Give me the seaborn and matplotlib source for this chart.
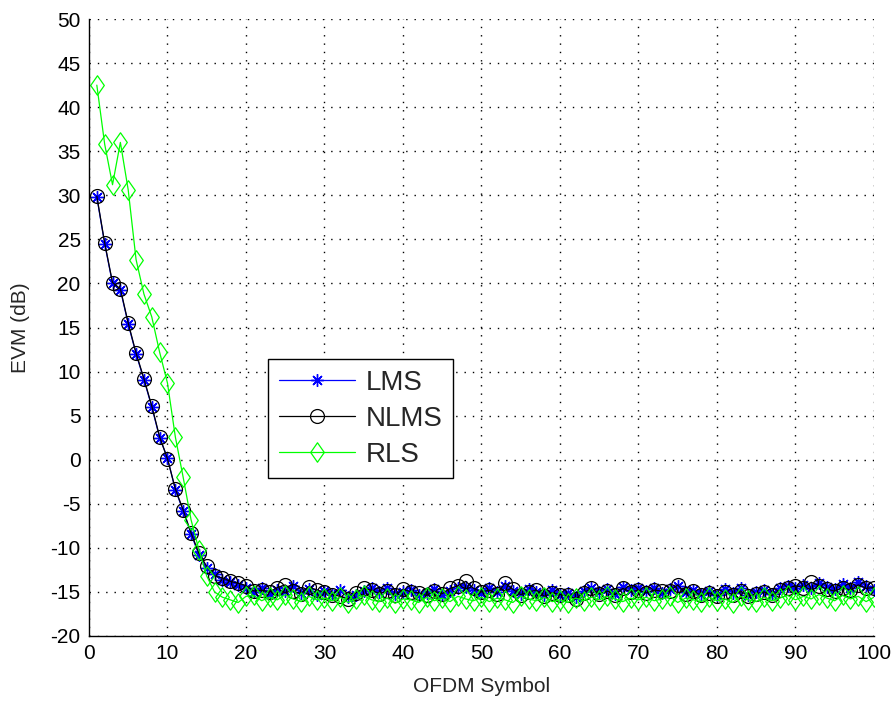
import numpy as np
import pandas as pd
import matplotlib
matplotlib.use("Agg")
import matplotlib.pyplot as plt
from matplotlib.path import Path
import seaborn as sns

symbols = list(range(1, 101))

lms = [29.8, 24.5, 20.0, 19.3, 15.4, 12.0, 9.1, 6.0, 2.5, 0.2,
       -3.4, -5.8, -8.4, -10.8, -12.3, -13.0, -13.6, -13.9, -14.2, -14.6,
       -15.0, -14.6, -15.2, -14.8, -14.9, -14.3, -15.1, -14.7, -15.3, -14.9,
       -15.2, -14.8, -15.6, -15.4, -14.9, -14.5, -15.0, -14.6, -15.2, -15.0,
       -14.8, -15.3, -15.1, -14.7, -15.4, -14.9, -14.5, -14.4, -14.8, -15.1,
       -14.6, -15.0, -14.3, -14.9, -15.2, -14.7, -15.0, -15.3, -14.8, -15.4,
       -15.1, -15.6, -14.9, -14.5, -15.0, -14.7, -15.2, -14.4, -14.8, -14.6,
       -14.9, -14.5, -15.1, -14.7, -14.3, -15.0, -14.8, -15.2, -14.9, -15.3,
       -14.7, -15.1, -14.6, -15.3, -15.0, -14.8, -15.2, -14.6, -14.3, -14.5,
       -14.2, -14.6, -14.0, -14.4, -14.7, -14.1, -14.5, -13.9, -14.3, -14.8]

nlms = [29.9, 24.6, 20.1, 19.4, 15.5, 12.1, 9.2, 6.1, 2.6, 0.1,
        -3.3, -5.7, -8.3, -10.6, -12.1, -13.2, -13.4, -13.8, -14.0, -14.3,
        -14.9, -14.8, -15.0, -14.5, -14.2, -14.9, -15.2, -14.4, -14.8, -15.0,
        -15.3, -15.5, -15.8, -15.1, -14.6, -14.8, -15.2, -14.9, -15.4, -14.7,
        -15.0, -15.1, -15.4, -14.9, -15.2, -14.6, -14.3, -13.8, -14.6, -15.0,
        -14.8, -15.2, -14.0, -14.7, -15.3, -15.0, -14.8, -15.5, -15.1, -15.3,
        -15.4, -15.8, -15.1, -14.6, -15.2, -14.9, -15.3, -14.6, -15.0, -14.8,
        -15.1, -14.8, -14.9, -14.9, -14.2, -15.2, -14.9, -15.4, -15.1, -15.5,
        -15.0, -15.3, -14.9, -15.5, -15.2, -15.0, -15.4, -14.8, -14.6, -14.3,
        -14.5, -13.9, -14.3, -14.7, -14.9, -14.5, -14.8, -14.2, -14.6, -14.5]

rls = [42.5, 35.8, 31.2, 36.0, 30.6, 22.7, 18.8, 16.2, 12.2, 8.7,
       2.6, -2.0, -6.8, -10.2, -13.2, -15.0, -15.6, -15.9, -16.2, -15.5,
       -15.4, -16.0, -15.6, -15.9, -15.3, -15.8, -16.1, -15.5, -15.9, -15.7,
       -16.0, -15.6, -16.2, -15.8, -15.4, -15.9, -16.1, -15.7, -16.3, -15.8,
       -15.9, -16.2, -15.6, -16.0, -15.7, -16.1, -15.5, -15.8, -16.0, -15.6,
       -16.1, -15.7, -15.9, -16.2, -15.5, -15.8, -16.0, -15.6, -16.1, -15.9,
       -16.2, -15.7, -16.0, -15.6, -15.9, -15.5, -15.8, -16.1, -15.7, -15.9,
       -15.6, -16.0, -15.8, -15.5, -16.2, -15.7, -15.9, -16.1, -15.6, -16.0,
       -15.8, -16.2, -15.5, -15.9, -16.1, -15.6, -16.0, -15.7, -15.4, -15.9,
       -15.5, -15.8, -15.3, -15.7, -16.0, -15.4, -15.8, -15.5, -16.1, -15.6]

x_ticks = list(range(0, 101, 10))
y_ticks = list(range(-20, 51, 5))

sns.set_style("white")
plt.rcParams['font.family'] = ['Liberation Sans', 'DejaVu Sans']
plt.rcParams['axes.unicode_minus'] = False

fig = plt.figure(figsize=(8.96, 7.04), dpi=100)
ax = fig.add_axes([0.0993, 0.0966, 0.8761, 0.8764])

diamond = Path([(0, 1), (0.7, 0), (0, -1), (-0.7, 0), (0, 1)],
               [Path.MOVETO, Path.LINETO, Path.LINETO, Path.LINETO, Path.CLOSEPOLY])

sns.lineplot(x=symbols, y=lms, ax=ax, color='#0000ff', marker=(8, 2, 0),
             markersize=9, markeredgecolor='#0000ff', markeredgewidth=1.0,
             linewidth=0.9, label='LMS')
sns.lineplot(x=symbols, y=nlms, ax=ax, color='black', marker='o',
             markersize=10, markerfacecolor='none', markeredgecolor='black',
             markeredgewidth=0.9, linewidth=0.9, label='NLMS')
sns.lineplot(x=symbols, y=rls, ax=ax, color='#00ff00', marker=diamond,
             markersize=14, markerfacecolor='none', markeredgecolor='#00ff00',
             markeredgewidth=0.9, linewidth=0.9, label='RLS')

ax.set_xlim(0, 100)
ax.set_ylim(-20, 50)
ax.set_xticks(x_ticks)
ax.set_yticks(y_ticks)
ax.tick_params(direction='in', length=5, width=1, labelsize=15, colors='black', pad=6)
ax.grid(True, color='black', linestyle=(0, (1, 5)), linewidth=1.0)
for s in ['top', 'right']:
    ax.spines[s].set_visible(False)
for s in ['left', 'bottom']:
    ax.spines[s].set_color('black')
    ax.spines[s].set_linewidth(1.0)

ax.set_xlabel('OFDM Symbol', fontsize=15)
ax.set_ylabel('EVM (dB)', fontsize=15)
ax.xaxis.set_label_coords(0.5, -0.066)
ax.yaxis.set_label_coords(-0.075, 0.5)

leg = ax.legend(loc='upper left', bbox_to_anchor=(0.228, 0.449), borderaxespad=0,
                fontsize=20, frameon=True, fancybox=False, framealpha=1,
                edgecolor='black', handlelength=2.75, labelspacing=0.36,
                borderpad=0.38, handletextpad=0.4)
leg.get_frame().set_linewidth(1.0)

fig.savefig('out.png', dpi=100)
